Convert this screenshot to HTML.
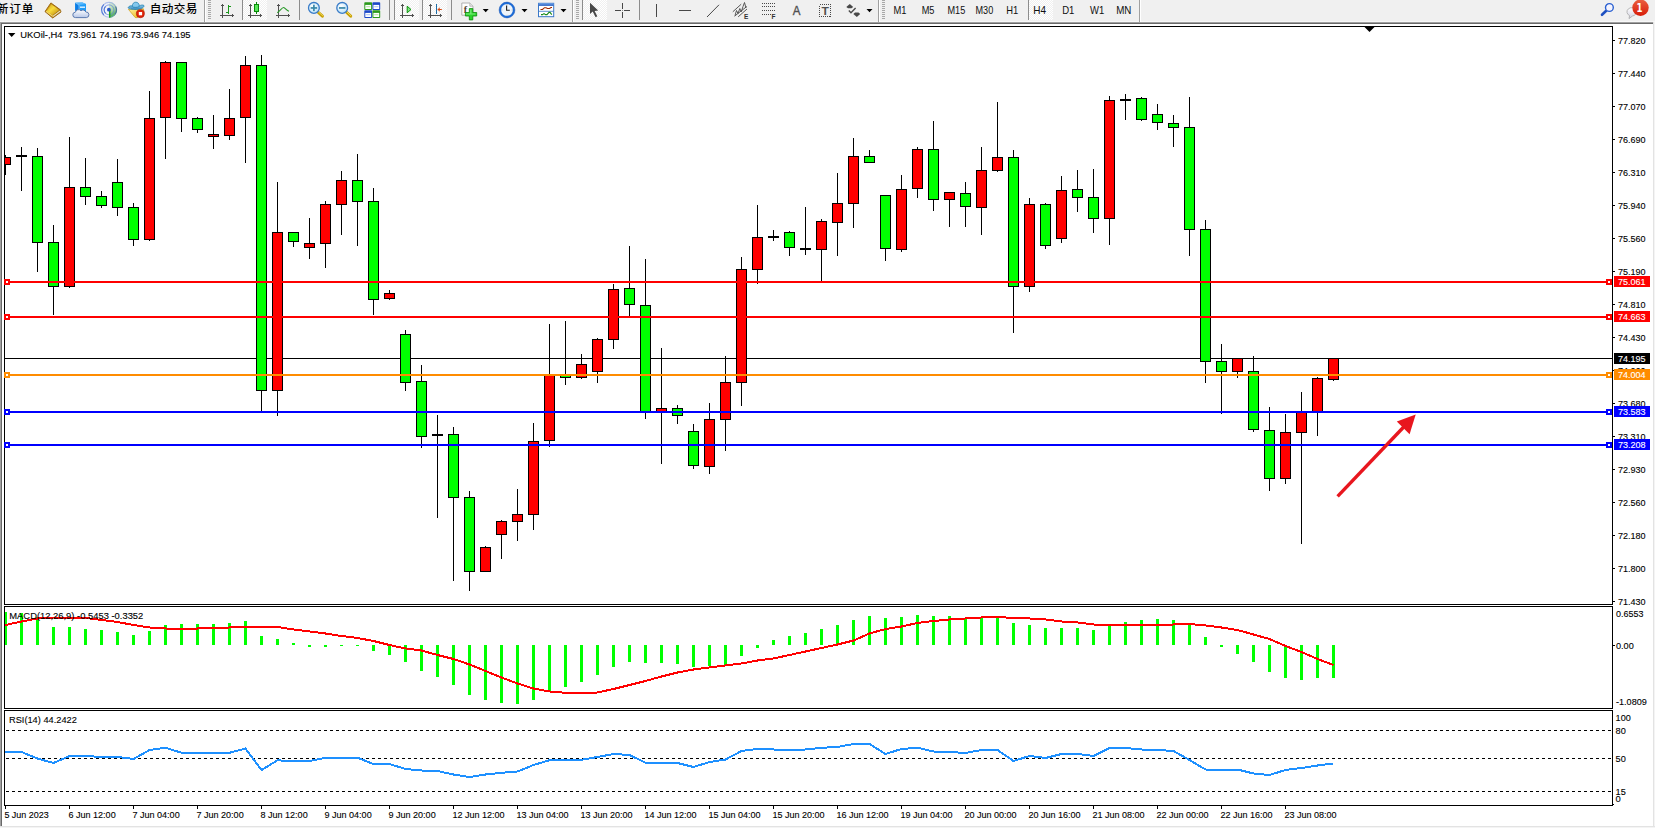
<!DOCTYPE html>
<html><head><meta charset="utf-8"><title>UKOil H4</title>
<style>html,body{margin:0;padding:0;background:#f0f0f0}body{width:1655px;height:828px;overflow:hidden;position:relative}text{white-space:pre}</style></head>
<body>
<svg width="1655" height="828" viewBox="0 0 1655 828" font-family='"Liberation Sans","Noto Sans CJK SC",sans-serif' style="position:absolute;left:0;top:0">
<g shape-rendering="crispEdges">
<rect x="0" y="22" width="1655" height="806" fill="#a0a0a0"/>
<rect x="1" y="23" width="1654" height="805" fill="#696969"/>
<rect x="2" y="24" width="1653" height="804" fill="#ffffff"/>
<rect x="1653" y="22" width="1" height="806" fill="#e3e3e3"/>
<rect x="1654" y="22" width="1" height="806" fill="#f4f4f4"/>
<rect x="0" y="826" width="1655" height="1" fill="#e3e3e3"/>
<rect x="0" y="827" width="1655" height="1" fill="#f4f4f4"/>
<rect x="0" y="21" width="1655" height="1" fill="#f7f7f7"/>
<rect x="4" y="26" width="1609" height="1" fill="#000"/>
<rect x="4" y="604" width="1609" height="1" fill="#000"/>
<rect x="4" y="26" width="1" height="579" fill="#000"/>
<rect x="1612" y="26" width="1" height="579" fill="#000"/>
<rect x="4" y="606" width="1609" height="1" fill="#000"/>
<rect x="4" y="708" width="1609" height="1" fill="#000"/>
<rect x="4" y="606" width="1" height="103" fill="#000"/>
<rect x="1612" y="606" width="1" height="103" fill="#000"/>
<rect x="4" y="710" width="1609" height="1" fill="#000"/>
<rect x="4" y="805" width="1609" height="1" fill="#000"/>
<rect x="4" y="710" width="1" height="96" fill="#000"/>
<rect x="1612" y="710" width="1" height="96" fill="#000"/>
<clipPath id="cm"><rect x="5" y="27" width="1607" height="577"/></clipPath>
<clipPath id="cd"><rect x="5" y="607" width="1607" height="101"/></clipPath>
<clipPath id="cr"><rect x="5" y="711" width="1607" height="94"/></clipPath>
<rect x="5" y="358" width="1607" height="1" fill="#000"/>
<g clip-path="url(#cm)">
<rect x="5" y="155" width="1" height="20" fill="#000"/>
<rect x="0" y="157" width="11" height="8" fill="#000"/>
<rect x="1" y="158" width="9" height="6" fill="#ff0000"/>
<rect x="21" y="147" width="1" height="44" fill="#000"/>
<rect x="16" y="155" width="11" height="2" fill="#000"/>
<rect x="37" y="148" width="1" height="124" fill="#000"/>
<rect x="32" y="156" width="11" height="87" fill="#000"/>
<rect x="33" y="157" width="9" height="85" fill="#00ff00"/>
<rect x="53" y="225" width="1" height="90" fill="#000"/>
<rect x="48" y="242" width="11" height="45" fill="#000"/>
<rect x="49" y="243" width="9" height="43" fill="#00ff00"/>
<rect x="69" y="137" width="1" height="151" fill="#000"/>
<rect x="64" y="187" width="11" height="100" fill="#000"/>
<rect x="65" y="188" width="9" height="98" fill="#ff0000"/>
<rect x="85" y="158" width="1" height="47" fill="#000"/>
<rect x="80" y="187" width="11" height="10" fill="#000"/>
<rect x="81" y="188" width="9" height="8" fill="#00ff00"/>
<rect x="101" y="191" width="1" height="17" fill="#000"/>
<rect x="96" y="196" width="11" height="10" fill="#000"/>
<rect x="97" y="197" width="9" height="8" fill="#00ff00"/>
<rect x="117" y="159" width="1" height="57" fill="#000"/>
<rect x="112" y="182" width="11" height="26" fill="#000"/>
<rect x="113" y="183" width="9" height="24" fill="#00ff00"/>
<rect x="133" y="203" width="1" height="43" fill="#000"/>
<rect x="128" y="207" width="11" height="33" fill="#000"/>
<rect x="129" y="208" width="9" height="31" fill="#00ff00"/>
<rect x="149" y="91" width="1" height="150" fill="#000"/>
<rect x="144" y="118" width="11" height="122" fill="#000"/>
<rect x="145" y="119" width="9" height="120" fill="#ff0000"/>
<rect x="165" y="61" width="1" height="98" fill="#000"/>
<rect x="160" y="62" width="11" height="56" fill="#000"/>
<rect x="161" y="63" width="9" height="54" fill="#ff0000"/>
<rect x="181" y="62" width="1" height="70" fill="#000"/>
<rect x="176" y="62" width="11" height="57" fill="#000"/>
<rect x="177" y="63" width="9" height="55" fill="#00ff00"/>
<rect x="197" y="117" width="1" height="16" fill="#000"/>
<rect x="192" y="118" width="11" height="12" fill="#000"/>
<rect x="193" y="119" width="9" height="10" fill="#00ff00"/>
<rect x="213" y="115" width="1" height="34" fill="#000"/>
<rect x="208" y="134" width="11" height="3" fill="#000"/>
<rect x="209" y="135" width="9" height="1" fill="#ff0000"/>
<rect x="229" y="89" width="1" height="51" fill="#000"/>
<rect x="224" y="118" width="11" height="18" fill="#000"/>
<rect x="225" y="119" width="9" height="16" fill="#ff0000"/>
<rect x="245" y="56" width="1" height="107" fill="#000"/>
<rect x="240" y="65" width="11" height="53" fill="#000"/>
<rect x="241" y="66" width="9" height="51" fill="#ff0000"/>
<rect x="261" y="55" width="1" height="356" fill="#000"/>
<rect x="256" y="65" width="11" height="326" fill="#000"/>
<rect x="257" y="66" width="9" height="324" fill="#00ff00"/>
<rect x="277" y="182" width="1" height="234" fill="#000"/>
<rect x="272" y="232" width="11" height="159" fill="#000"/>
<rect x="273" y="233" width="9" height="157" fill="#ff0000"/>
<rect x="293" y="232" width="1" height="15" fill="#000"/>
<rect x="288" y="232" width="11" height="10" fill="#000"/>
<rect x="289" y="233" width="9" height="8" fill="#00ff00"/>
<rect x="309" y="218" width="1" height="41" fill="#000"/>
<rect x="304" y="243" width="11" height="5" fill="#000"/>
<rect x="305" y="244" width="9" height="3" fill="#ff0000"/>
<rect x="325" y="201" width="1" height="67" fill="#000"/>
<rect x="320" y="204" width="11" height="40" fill="#000"/>
<rect x="321" y="205" width="9" height="38" fill="#ff0000"/>
<rect x="341" y="171" width="1" height="64" fill="#000"/>
<rect x="336" y="180" width="11" height="25" fill="#000"/>
<rect x="337" y="181" width="9" height="23" fill="#ff0000"/>
<rect x="357" y="154" width="1" height="92" fill="#000"/>
<rect x="352" y="180" width="11" height="22" fill="#000"/>
<rect x="353" y="181" width="9" height="20" fill="#00ff00"/>
<rect x="373" y="188" width="1" height="127" fill="#000"/>
<rect x="368" y="201" width="11" height="99" fill="#000"/>
<rect x="369" y="202" width="9" height="97" fill="#00ff00"/>
<rect x="389" y="290" width="1" height="10" fill="#000"/>
<rect x="384" y="293" width="11" height="6" fill="#000"/>
<rect x="385" y="294" width="9" height="4" fill="#ff0000"/>
<rect x="405" y="330" width="1" height="61" fill="#000"/>
<rect x="400" y="334" width="11" height="49" fill="#000"/>
<rect x="401" y="335" width="9" height="47" fill="#00ff00"/>
<rect x="421" y="365" width="1" height="83" fill="#000"/>
<rect x="416" y="381" width="11" height="56" fill="#000"/>
<rect x="417" y="382" width="9" height="54" fill="#00ff00"/>
<rect x="437" y="415" width="1" height="103" fill="#000"/>
<rect x="432" y="434" width="11" height="2" fill="#000"/>
<rect x="453" y="427" width="1" height="154" fill="#000"/>
<rect x="448" y="434" width="11" height="64" fill="#000"/>
<rect x="449" y="435" width="9" height="62" fill="#00ff00"/>
<rect x="469" y="491" width="1" height="100" fill="#000"/>
<rect x="464" y="497" width="11" height="75" fill="#000"/>
<rect x="465" y="498" width="9" height="73" fill="#00ff00"/>
<rect x="485" y="546" width="1" height="26" fill="#000"/>
<rect x="480" y="547" width="11" height="25" fill="#000"/>
<rect x="481" y="548" width="9" height="23" fill="#ff0000"/>
<rect x="501" y="520" width="1" height="39" fill="#000"/>
<rect x="496" y="521" width="11" height="14" fill="#000"/>
<rect x="497" y="522" width="9" height="12" fill="#ff0000"/>
<rect x="517" y="489" width="1" height="52" fill="#000"/>
<rect x="512" y="514" width="11" height="8" fill="#000"/>
<rect x="513" y="515" width="9" height="6" fill="#ff0000"/>
<rect x="533" y="423" width="1" height="107" fill="#000"/>
<rect x="528" y="441" width="11" height="74" fill="#000"/>
<rect x="529" y="442" width="9" height="72" fill="#ff0000"/>
<rect x="549" y="324" width="1" height="123" fill="#000"/>
<rect x="544" y="375" width="11" height="66" fill="#000"/>
<rect x="545" y="376" width="9" height="64" fill="#ff0000"/>
<rect x="565" y="321" width="1" height="64" fill="#000"/>
<rect x="560" y="375" width="11" height="3" fill="#000"/>
<rect x="561" y="376" width="9" height="1" fill="#00ff00"/>
<rect x="581" y="354" width="1" height="25" fill="#000"/>
<rect x="576" y="364" width="11" height="14" fill="#000"/>
<rect x="577" y="365" width="9" height="12" fill="#ff0000"/>
<rect x="597" y="338" width="1" height="45" fill="#000"/>
<rect x="592" y="339" width="11" height="33" fill="#000"/>
<rect x="593" y="340" width="9" height="31" fill="#ff0000"/>
<rect x="613" y="284" width="1" height="65" fill="#000"/>
<rect x="608" y="289" width="11" height="51" fill="#000"/>
<rect x="609" y="290" width="9" height="49" fill="#ff0000"/>
<rect x="629" y="246" width="1" height="70" fill="#000"/>
<rect x="624" y="288" width="11" height="17" fill="#000"/>
<rect x="625" y="289" width="9" height="15" fill="#00ff00"/>
<rect x="645" y="259" width="1" height="160" fill="#000"/>
<rect x="640" y="305" width="11" height="107" fill="#000"/>
<rect x="641" y="306" width="9" height="105" fill="#00ff00"/>
<rect x="661" y="348" width="1" height="116" fill="#000"/>
<rect x="656" y="408" width="11" height="4" fill="#000"/>
<rect x="657" y="409" width="9" height="2" fill="#ff0000"/>
<rect x="677" y="405" width="1" height="19" fill="#000"/>
<rect x="672" y="408" width="11" height="8" fill="#000"/>
<rect x="673" y="409" width="9" height="6" fill="#00ff00"/>
<rect x="693" y="424" width="1" height="45" fill="#000"/>
<rect x="688" y="431" width="11" height="35" fill="#000"/>
<rect x="689" y="432" width="9" height="33" fill="#00ff00"/>
<rect x="709" y="403" width="1" height="71" fill="#000"/>
<rect x="704" y="419" width="11" height="48" fill="#000"/>
<rect x="705" y="420" width="9" height="46" fill="#ff0000"/>
<rect x="725" y="356" width="1" height="95" fill="#000"/>
<rect x="720" y="382" width="11" height="38" fill="#000"/>
<rect x="721" y="383" width="9" height="36" fill="#ff0000"/>
<rect x="741" y="257" width="1" height="149" fill="#000"/>
<rect x="736" y="269" width="11" height="114" fill="#000"/>
<rect x="737" y="270" width="9" height="112" fill="#ff0000"/>
<rect x="757" y="205" width="1" height="79" fill="#000"/>
<rect x="752" y="237" width="11" height="33" fill="#000"/>
<rect x="753" y="238" width="9" height="31" fill="#ff0000"/>
<rect x="773" y="230" width="1" height="11" fill="#000"/>
<rect x="768" y="236" width="11" height="2" fill="#000"/>
<rect x="789" y="231" width="1" height="25" fill="#000"/>
<rect x="784" y="232" width="11" height="16" fill="#000"/>
<rect x="785" y="233" width="9" height="14" fill="#00ff00"/>
<rect x="805" y="207" width="1" height="48" fill="#000"/>
<rect x="800" y="248" width="11" height="2" fill="#000"/>
<rect x="821" y="219" width="1" height="62" fill="#000"/>
<rect x="816" y="221" width="11" height="29" fill="#000"/>
<rect x="817" y="222" width="9" height="27" fill="#ff0000"/>
<rect x="837" y="173" width="1" height="83" fill="#000"/>
<rect x="832" y="203" width="11" height="20" fill="#000"/>
<rect x="833" y="204" width="9" height="18" fill="#ff0000"/>
<rect x="853" y="138" width="1" height="90" fill="#000"/>
<rect x="848" y="156" width="11" height="48" fill="#000"/>
<rect x="849" y="157" width="9" height="46" fill="#ff0000"/>
<rect x="869" y="150" width="1" height="13" fill="#000"/>
<rect x="864" y="156" width="11" height="7" fill="#000"/>
<rect x="865" y="157" width="9" height="5" fill="#00ff00"/>
<rect x="885" y="195" width="1" height="66" fill="#000"/>
<rect x="880" y="195" width="11" height="54" fill="#000"/>
<rect x="881" y="196" width="9" height="52" fill="#00ff00"/>
<rect x="901" y="175" width="1" height="77" fill="#000"/>
<rect x="896" y="189" width="11" height="61" fill="#000"/>
<rect x="897" y="190" width="9" height="59" fill="#ff0000"/>
<rect x="917" y="147" width="1" height="51" fill="#000"/>
<rect x="912" y="149" width="11" height="40" fill="#000"/>
<rect x="913" y="150" width="9" height="38" fill="#ff0000"/>
<rect x="933" y="121" width="1" height="90" fill="#000"/>
<rect x="928" y="149" width="11" height="51" fill="#000"/>
<rect x="929" y="150" width="9" height="49" fill="#00ff00"/>
<rect x="949" y="192" width="1" height="35" fill="#000"/>
<rect x="944" y="192" width="11" height="8" fill="#000"/>
<rect x="945" y="193" width="9" height="6" fill="#ff0000"/>
<rect x="965" y="182" width="1" height="45" fill="#000"/>
<rect x="960" y="193" width="11" height="14" fill="#000"/>
<rect x="961" y="194" width="9" height="12" fill="#00ff00"/>
<rect x="981" y="147" width="1" height="88" fill="#000"/>
<rect x="976" y="170" width="11" height="38" fill="#000"/>
<rect x="977" y="171" width="9" height="36" fill="#ff0000"/>
<rect x="997" y="102" width="1" height="70" fill="#000"/>
<rect x="992" y="157" width="11" height="14" fill="#000"/>
<rect x="993" y="158" width="9" height="12" fill="#ff0000"/>
<rect x="1013" y="150" width="1" height="183" fill="#000"/>
<rect x="1008" y="157" width="11" height="130" fill="#000"/>
<rect x="1009" y="158" width="9" height="128" fill="#00ff00"/>
<rect x="1029" y="198" width="1" height="94" fill="#000"/>
<rect x="1024" y="204" width="11" height="83" fill="#000"/>
<rect x="1025" y="205" width="9" height="81" fill="#ff0000"/>
<rect x="1045" y="203" width="1" height="46" fill="#000"/>
<rect x="1040" y="204" width="11" height="42" fill="#000"/>
<rect x="1041" y="205" width="9" height="40" fill="#00ff00"/>
<rect x="1061" y="176" width="1" height="67" fill="#000"/>
<rect x="1056" y="190" width="11" height="49" fill="#000"/>
<rect x="1057" y="191" width="9" height="47" fill="#ff0000"/>
<rect x="1077" y="170" width="1" height="42" fill="#000"/>
<rect x="1072" y="189" width="11" height="9" fill="#000"/>
<rect x="1073" y="190" width="9" height="7" fill="#00ff00"/>
<rect x="1093" y="169" width="1" height="64" fill="#000"/>
<rect x="1088" y="197" width="11" height="22" fill="#000"/>
<rect x="1089" y="198" width="9" height="20" fill="#00ff00"/>
<rect x="1109" y="96" width="1" height="149" fill="#000"/>
<rect x="1104" y="100" width="11" height="119" fill="#000"/>
<rect x="1105" y="101" width="9" height="117" fill="#ff0000"/>
<rect x="1125" y="94" width="1" height="26" fill="#000"/>
<rect x="1120" y="99" width="11" height="2" fill="#000"/>
<rect x="1141" y="97" width="1" height="24" fill="#000"/>
<rect x="1136" y="98" width="11" height="22" fill="#000"/>
<rect x="1137" y="99" width="9" height="20" fill="#00ff00"/>
<rect x="1157" y="104" width="1" height="26" fill="#000"/>
<rect x="1152" y="114" width="11" height="9" fill="#000"/>
<rect x="1153" y="115" width="9" height="7" fill="#00ff00"/>
<rect x="1173" y="115" width="1" height="32" fill="#000"/>
<rect x="1168" y="123" width="11" height="5" fill="#000"/>
<rect x="1169" y="124" width="9" height="3" fill="#00ff00"/>
<rect x="1189" y="97" width="1" height="159" fill="#000"/>
<rect x="1184" y="127" width="11" height="103" fill="#000"/>
<rect x="1185" y="128" width="9" height="101" fill="#00ff00"/>
<rect x="1205" y="220" width="1" height="163" fill="#000"/>
<rect x="1200" y="229" width="11" height="133" fill="#000"/>
<rect x="1201" y="230" width="9" height="131" fill="#00ff00"/>
<rect x="1221" y="344" width="1" height="70" fill="#000"/>
<rect x="1216" y="361" width="11" height="11" fill="#000"/>
<rect x="1217" y="362" width="9" height="9" fill="#00ff00"/>
<rect x="1237" y="358" width="1" height="20" fill="#000"/>
<rect x="1232" y="358" width="11" height="14" fill="#000"/>
<rect x="1233" y="359" width="9" height="12" fill="#ff0000"/>
<rect x="1253" y="356" width="1" height="76" fill="#000"/>
<rect x="1248" y="371" width="11" height="59" fill="#000"/>
<rect x="1249" y="372" width="9" height="57" fill="#00ff00"/>
<rect x="1269" y="407" width="1" height="84" fill="#000"/>
<rect x="1264" y="430" width="11" height="49" fill="#000"/>
<rect x="1265" y="431" width="9" height="47" fill="#00ff00"/>
<rect x="1285" y="414" width="1" height="70" fill="#000"/>
<rect x="1280" y="432" width="11" height="47" fill="#000"/>
<rect x="1281" y="433" width="9" height="45" fill="#ff0000"/>
<rect x="1301" y="392" width="1" height="152" fill="#000"/>
<rect x="1296" y="412" width="11" height="21" fill="#000"/>
<rect x="1297" y="413" width="9" height="19" fill="#ff0000"/>
<rect x="1317" y="377" width="1" height="59" fill="#000"/>
<rect x="1312" y="378" width="11" height="34" fill="#000"/>
<rect x="1313" y="379" width="9" height="32" fill="#ff0000"/>
<rect x="1333" y="358" width="1" height="23" fill="#000"/>
<rect x="1328" y="358" width="11" height="22" fill="#000"/>
<rect x="1329" y="359" width="9" height="20" fill="#ff0000"/>
</g>
<rect x="5" y="281" width="1607" height="2" fill="#ff0000"/>
<rect x="4" y="279" width="6" height="6" fill="#ff0000"/>
<rect x="6" y="281" width="2" height="2" fill="#fff"/>
<rect x="1606" y="279" width="6" height="6" fill="#ff0000"/>
<rect x="1608" y="281" width="2" height="2" fill="#fff"/>
<rect x="5" y="316" width="1607" height="2" fill="#ff0000"/>
<rect x="4" y="314" width="6" height="6" fill="#ff0000"/>
<rect x="6" y="316" width="2" height="2" fill="#fff"/>
<rect x="1606" y="314" width="6" height="6" fill="#ff0000"/>
<rect x="1608" y="316" width="2" height="2" fill="#fff"/>
<rect x="5" y="374" width="1607" height="2" fill="#ff8c00"/>
<rect x="4" y="372" width="6" height="6" fill="#ff8c00"/>
<rect x="6" y="374" width="2" height="2" fill="#fff"/>
<rect x="1606" y="372" width="6" height="6" fill="#ff8c00"/>
<rect x="1608" y="374" width="2" height="2" fill="#fff"/>
<rect x="5" y="411" width="1607" height="2" fill="#0000ff"/>
<rect x="4" y="409" width="6" height="6" fill="#0000ff"/>
<rect x="6" y="411" width="2" height="2" fill="#fff"/>
<rect x="1606" y="409" width="6" height="6" fill="#0000ff"/>
<rect x="1608" y="411" width="2" height="2" fill="#fff"/>
<rect x="5" y="444" width="1607" height="2" fill="#0000ff"/>
<rect x="4" y="442" width="6" height="6" fill="#0000ff"/>
<rect x="6" y="444" width="2" height="2" fill="#fff"/>
<rect x="1606" y="442" width="6" height="6" fill="#0000ff"/>
<rect x="1608" y="444" width="2" height="2" fill="#fff"/>
<polygon points="1364.5,27 1374.5,27 1369.5,32" fill="#000" shape-rendering="geometricPrecision"/>
</g>
<g>
<rect x="1613" y="40" width="2" height="1" fill="#000" shape-rendering="crispEdges"/>
<text x="1618" y="43.5" font-size="9.9" fill="#000" stroke="#000" stroke-width="0.12" textLength="27.6" lengthAdjust="spacingAndGlyphs">77.820</text>
<rect x="1613" y="73" width="2" height="1" fill="#000" shape-rendering="crispEdges"/>
<text x="1618" y="76.5" font-size="9.9" fill="#000" stroke="#000" stroke-width="0.12" textLength="27.6" lengthAdjust="spacingAndGlyphs">77.440</text>
<rect x="1613" y="106" width="2" height="1" fill="#000" shape-rendering="crispEdges"/>
<text x="1618" y="109.5" font-size="9.9" fill="#000" stroke="#000" stroke-width="0.12" textLength="27.6" lengthAdjust="spacingAndGlyphs">77.070</text>
<rect x="1613" y="139" width="2" height="1" fill="#000" shape-rendering="crispEdges"/>
<text x="1618" y="142.5" font-size="9.9" fill="#000" stroke="#000" stroke-width="0.12" textLength="27.6" lengthAdjust="spacingAndGlyphs">76.690</text>
<rect x="1613" y="172" width="2" height="1" fill="#000" shape-rendering="crispEdges"/>
<text x="1618" y="175.5" font-size="9.9" fill="#000" stroke="#000" stroke-width="0.12" textLength="27.6" lengthAdjust="spacingAndGlyphs">76.310</text>
<rect x="1613" y="205" width="2" height="1" fill="#000" shape-rendering="crispEdges"/>
<text x="1618" y="208.5" font-size="9.9" fill="#000" stroke="#000" stroke-width="0.12" textLength="27.6" lengthAdjust="spacingAndGlyphs">75.940</text>
<rect x="1613" y="238" width="2" height="1" fill="#000" shape-rendering="crispEdges"/>
<text x="1618" y="241.5" font-size="9.9" fill="#000" stroke="#000" stroke-width="0.12" textLength="27.6" lengthAdjust="spacingAndGlyphs">75.560</text>
<rect x="1613" y="271" width="2" height="1" fill="#000" shape-rendering="crispEdges"/>
<text x="1618" y="274.5" font-size="9.9" fill="#000" stroke="#000" stroke-width="0.12" textLength="27.6" lengthAdjust="spacingAndGlyphs">75.190</text>
<rect x="1613" y="304" width="2" height="1" fill="#000" shape-rendering="crispEdges"/>
<text x="1618" y="307.5" font-size="9.9" fill="#000" stroke="#000" stroke-width="0.12" textLength="27.6" lengthAdjust="spacingAndGlyphs">74.810</text>
<rect x="1613" y="337" width="2" height="1" fill="#000" shape-rendering="crispEdges"/>
<text x="1618" y="340.5" font-size="9.9" fill="#000" stroke="#000" stroke-width="0.12" textLength="27.6" lengthAdjust="spacingAndGlyphs">74.430</text>
<rect x="1613" y="370" width="2" height="1" fill="#000" shape-rendering="crispEdges"/>
<text x="1618" y="373.5" font-size="9.9" fill="#000" stroke="#000" stroke-width="0.12" textLength="27.6" lengthAdjust="spacingAndGlyphs">74.060</text>
<rect x="1613" y="403" width="2" height="1" fill="#000" shape-rendering="crispEdges"/>
<text x="1618" y="406.5" font-size="9.9" fill="#000" stroke="#000" stroke-width="0.12" textLength="27.6" lengthAdjust="spacingAndGlyphs">73.680</text>
<rect x="1613" y="436" width="2" height="1" fill="#000" shape-rendering="crispEdges"/>
<text x="1618" y="439.5" font-size="9.9" fill="#000" stroke="#000" stroke-width="0.12" textLength="27.6" lengthAdjust="spacingAndGlyphs">73.310</text>
<rect x="1613" y="469" width="2" height="1" fill="#000" shape-rendering="crispEdges"/>
<text x="1618" y="472.5" font-size="9.9" fill="#000" stroke="#000" stroke-width="0.12" textLength="27.6" lengthAdjust="spacingAndGlyphs">72.930</text>
<rect x="1613" y="502" width="2" height="1" fill="#000" shape-rendering="crispEdges"/>
<text x="1618" y="505.5" font-size="9.9" fill="#000" stroke="#000" stroke-width="0.12" textLength="27.6" lengthAdjust="spacingAndGlyphs">72.560</text>
<rect x="1613" y="535" width="2" height="1" fill="#000" shape-rendering="crispEdges"/>
<text x="1618" y="538.5" font-size="9.9" fill="#000" stroke="#000" stroke-width="0.12" textLength="27.6" lengthAdjust="spacingAndGlyphs">72.180</text>
<rect x="1613" y="568" width="2" height="1" fill="#000" shape-rendering="crispEdges"/>
<text x="1618" y="571.5" font-size="9.9" fill="#000" stroke="#000" stroke-width="0.12" textLength="27.6" lengthAdjust="spacingAndGlyphs">71.800</text>
<rect x="1613" y="601" width="2" height="1" fill="#000" shape-rendering="crispEdges"/>
<text x="1618" y="604.5" font-size="9.9" fill="#000" stroke="#000" stroke-width="0.12" textLength="27.6" lengthAdjust="spacingAndGlyphs">71.430</text>
<rect x="1614" y="276" width="36" height="11" fill="#ff0000" shape-rendering="crispEdges"/>
<text x="1618" y="285" font-size="9.9" fill="#fff" stroke="#fff" stroke-width="0.12" textLength="27.6" lengthAdjust="spacingAndGlyphs">75.061</text>
<rect x="1614" y="311" width="36" height="11" fill="#ff0000" shape-rendering="crispEdges"/>
<text x="1618" y="320" font-size="9.9" fill="#fff" stroke="#fff" stroke-width="0.12" textLength="27.6" lengthAdjust="spacingAndGlyphs">74.663</text>
<rect x="1614" y="369" width="36" height="11" fill="#ff8c00" shape-rendering="crispEdges"/>
<text x="1618" y="378" font-size="9.9" fill="#fff" stroke="#fff" stroke-width="0.12" textLength="27.6" lengthAdjust="spacingAndGlyphs">74.004</text>
<rect x="1614" y="406" width="36" height="11" fill="#0000ff" shape-rendering="crispEdges"/>
<text x="1618" y="415" font-size="9.9" fill="#fff" stroke="#fff" stroke-width="0.12" textLength="27.6" lengthAdjust="spacingAndGlyphs">73.583</text>
<rect x="1614" y="439" width="36" height="11" fill="#0000ff" shape-rendering="crispEdges"/>
<text x="1618" y="448" font-size="9.9" fill="#fff" stroke="#fff" stroke-width="0.12" textLength="27.6" lengthAdjust="spacingAndGlyphs">73.208</text>
<rect x="1614" y="353" width="36" height="11" fill="#000" shape-rendering="crispEdges"/>
<text x="1618" y="362" font-size="9.9" fill="#fff" stroke="#fff" stroke-width="0.12" textLength="27.6" lengthAdjust="spacingAndGlyphs">74.195</text>
<polygon points="8,33 15.4,33 11.7,37" fill="#000"/>
<text x="20.3" y="37.8" font-size="9.9" fill="#000" stroke="#000" stroke-width="0.12" textLength="170.3" lengthAdjust="spacingAndGlyphs">UKOil-,H4&#160; 73.961 74.196 73.946 74.195</text>
<line x1="1337.6" y1="496.4" x2="1405.6" y2="425" stroke="#e8161e" stroke-width="3.4"/>
<polygon points="1415.7,414.4 1396.8,421.4 1409.6,434.2" fill="#e8161e"/>
</g>
<g clip-path="url(#cd)">
<g shape-rendering="crispEdges">
<rect x="4" y="612" width="3" height="33" fill="#00ff00"/>
<rect x="20" y="613" width="3" height="32" fill="#00ff00"/>
<rect x="36" y="617" width="3" height="28" fill="#00ff00"/>
<rect x="52" y="627" width="3" height="18" fill="#00ff00"/>
<rect x="68" y="627" width="3" height="18" fill="#00ff00"/>
<rect x="84" y="629" width="3" height="16" fill="#00ff00"/>
<rect x="100" y="630" width="3" height="15" fill="#00ff00"/>
<rect x="116" y="632" width="3" height="13" fill="#00ff00"/>
<rect x="132" y="635" width="3" height="10" fill="#00ff00"/>
<rect x="148" y="631" width="3" height="14" fill="#00ff00"/>
<rect x="164" y="625" width="3" height="20" fill="#00ff00"/>
<rect x="180" y="624" width="3" height="21" fill="#00ff00"/>
<rect x="196" y="624" width="3" height="21" fill="#00ff00"/>
<rect x="212" y="624" width="3" height="21" fill="#00ff00"/>
<rect x="228" y="623" width="3" height="22" fill="#00ff00"/>
<rect x="244" y="621" width="3" height="24" fill="#00ff00"/>
<rect x="260" y="636" width="3" height="9" fill="#00ff00"/>
<rect x="276" y="639" width="3" height="6" fill="#00ff00"/>
<rect x="292" y="643" width="3" height="2" fill="#00ff00"/>
<rect x="308" y="645" width="3" height="2" fill="#00ff00"/>
<rect x="324" y="645" width="3" height="2" fill="#00ff00"/>
<rect x="340" y="645" width="3" height="1" fill="#00ff00"/>
<rect x="356" y="645" width="3" height="1" fill="#00ff00"/>
<rect x="372" y="645" width="3" height="6" fill="#00ff00"/>
<rect x="388" y="645" width="3" height="10" fill="#00ff00"/>
<rect x="404" y="645" width="3" height="17" fill="#00ff00"/>
<rect x="420" y="645" width="3" height="26" fill="#00ff00"/>
<rect x="436" y="645" width="3" height="32" fill="#00ff00"/>
<rect x="452" y="645" width="3" height="40" fill="#00ff00"/>
<rect x="468" y="645" width="3" height="50" fill="#00ff00"/>
<rect x="484" y="645" width="3" height="55" fill="#00ff00"/>
<rect x="500" y="645" width="3" height="58" fill="#00ff00"/>
<rect x="516" y="645" width="3" height="59" fill="#00ff00"/>
<rect x="532" y="645" width="3" height="55" fill="#00ff00"/>
<rect x="548" y="645" width="3" height="47" fill="#00ff00"/>
<rect x="564" y="645" width="3" height="42" fill="#00ff00"/>
<rect x="580" y="645" width="3" height="37" fill="#00ff00"/>
<rect x="596" y="645" width="3" height="30" fill="#00ff00"/>
<rect x="612" y="645" width="3" height="22" fill="#00ff00"/>
<rect x="628" y="645" width="3" height="17" fill="#00ff00"/>
<rect x="644" y="645" width="3" height="18" fill="#00ff00"/>
<rect x="660" y="645" width="3" height="18" fill="#00ff00"/>
<rect x="676" y="645" width="3" height="19" fill="#00ff00"/>
<rect x="692" y="645" width="3" height="22" fill="#00ff00"/>
<rect x="708" y="645" width="3" height="21" fill="#00ff00"/>
<rect x="724" y="645" width="3" height="20" fill="#00ff00"/>
<rect x="740" y="645" width="3" height="11" fill="#00ff00"/>
<rect x="756" y="645" width="3" height="3" fill="#00ff00"/>
<rect x="772" y="640" width="3" height="5" fill="#00ff00"/>
<rect x="788" y="636" width="3" height="9" fill="#00ff00"/>
<rect x="804" y="633" width="3" height="12" fill="#00ff00"/>
<rect x="820" y="629" width="3" height="16" fill="#00ff00"/>
<rect x="836" y="625" width="3" height="20" fill="#00ff00"/>
<rect x="852" y="620" width="3" height="25" fill="#00ff00"/>
<rect x="868" y="616" width="3" height="29" fill="#00ff00"/>
<rect x="884" y="618" width="3" height="27" fill="#00ff00"/>
<rect x="900" y="617" width="3" height="28" fill="#00ff00"/>
<rect x="916" y="615" width="3" height="30" fill="#00ff00"/>
<rect x="932" y="616" width="3" height="29" fill="#00ff00"/>
<rect x="948" y="616" width="3" height="29" fill="#00ff00"/>
<rect x="964" y="618" width="3" height="27" fill="#00ff00"/>
<rect x="980" y="618" width="3" height="27" fill="#00ff00"/>
<rect x="996" y="618" width="3" height="27" fill="#00ff00"/>
<rect x="1012" y="623" width="3" height="22" fill="#00ff00"/>
<rect x="1028" y="625" width="3" height="20" fill="#00ff00"/>
<rect x="1044" y="628" width="3" height="17" fill="#00ff00"/>
<rect x="1060" y="628" width="3" height="17" fill="#00ff00"/>
<rect x="1076" y="628" width="3" height="17" fill="#00ff00"/>
<rect x="1092" y="630" width="3" height="15" fill="#00ff00"/>
<rect x="1108" y="626" width="3" height="19" fill="#00ff00"/>
<rect x="1124" y="622" width="3" height="23" fill="#00ff00"/>
<rect x="1140" y="620" width="3" height="25" fill="#00ff00"/>
<rect x="1156" y="619" width="3" height="26" fill="#00ff00"/>
<rect x="1172" y="620" width="3" height="25" fill="#00ff00"/>
<rect x="1188" y="625" width="3" height="20" fill="#00ff00"/>
<rect x="1204" y="637" width="3" height="8" fill="#00ff00"/>
<rect x="1220" y="645" width="3" height="2" fill="#00ff00"/>
<rect x="1236" y="645" width="3" height="9" fill="#00ff00"/>
<rect x="1252" y="645" width="3" height="17" fill="#00ff00"/>
<rect x="1268" y="645" width="3" height="27" fill="#00ff00"/>
<rect x="1284" y="645" width="3" height="33" fill="#00ff00"/>
<rect x="1300" y="645" width="3" height="35" fill="#00ff00"/>
<rect x="1316" y="645" width="3" height="33" fill="#00ff00"/>
<rect x="1332" y="645" width="3" height="33" fill="#00ff00"/>
</g>
<polyline points="-10.5,628.5 5.5,625 21.5,621.5 37.5,618.5 53.5,617.5 69.5,617.5 85.5,618 101.5,620 117.5,622 133.5,625 149.5,627.5 165.5,628.5 181.5,628.5 197.5,628.5 213.5,628 229.5,627.5 245.5,627 261.5,627 277.5,627 293.5,629.5 309.5,631.5 325.5,633.5 341.5,636 357.5,638 373.5,641 389.5,645 405.5,648.5 421.5,650.5 437.5,655 453.5,659 469.5,664.5 485.5,671 501.5,677.5 517.5,683.5 533.5,688.5 549.5,691.5 565.5,692.75 581.5,692.75 597.5,692.5 613.5,689 629.5,685 645.5,681 661.5,676.5 677.5,672.5 693.5,669.5 709.5,667.5 725.5,665.5 741.5,663.5 757.5,660.5 773.5,658.5 789.5,655 805.5,651.5 821.5,648 837.5,644.5 853.5,640.5 869.5,633.5 885.5,629 901.5,626.5 917.5,623 933.5,621 949.5,619.5 965.5,618.5 981.5,617.5 997.5,617 1013.5,618 1029.5,618.5 1045.5,619.5 1061.5,621.5 1077.5,622.5 1093.5,624.5 1109.5,625 1125.5,625 1141.5,625 1157.5,625 1173.5,624.5 1189.5,624 1205.5,625.5 1221.5,627.5 1237.5,630 1253.5,634.5 1269.5,639 1285.5,646 1301.5,652 1317.5,659 1333.5,665" fill="none" stroke="#ff0000" stroke-width="2" stroke-linejoin="round" shape-rendering="crispEdges"/>
</g>
<text x="9.3" y="618.7" font-size="9.9" fill="#000" stroke="#000" stroke-width="0.12" textLength="134" lengthAdjust="spacingAndGlyphs">MACD(12,26,9) -0.5453 -0.3352</text>
<text x="1616" y="617" font-size="9.9" fill="#000" stroke="#000" stroke-width="0.12" textLength="27.4" lengthAdjust="spacingAndGlyphs">0.6553</text>
<text x="1616" y="649" font-size="9.9" fill="#000" stroke="#000" stroke-width="0.12" textLength="17.8" lengthAdjust="spacingAndGlyphs">0.00</text>
<text x="1616" y="705" font-size="9.9" fill="#000" stroke="#000" stroke-width="0.12" textLength="30.8" lengthAdjust="spacingAndGlyphs">-1.0809</text>
<rect x="1613" y="645" width="2" height="1" fill="#000" shape-rendering="crispEdges"/>
<rect x="1613" y="804" width="1" height="1" fill="#000" shape-rendering="crispEdges"/>
<g shape-rendering="crispEdges">
<line x1="5" y1="730.5" x2="1612" y2="730.5" stroke="#000" stroke-width="1" stroke-dasharray="3,3" stroke-dashoffset="5"/>
<line x1="5" y1="758.5" x2="1612" y2="758.5" stroke="#000" stroke-width="1" stroke-dasharray="3,3" stroke-dashoffset="5"/>
<line x1="5" y1="791.5" x2="1612" y2="791.5" stroke="#000" stroke-width="1" stroke-dasharray="3,3" stroke-dashoffset="5"/>
</g>
<g clip-path="url(#cr)">
<polyline points="-10.5,752 5.5,752 21.5,752 37.5,758.5 53.5,763 69.5,756 85.5,756 101.5,757 117.5,757 133.5,759 149.5,750 165.5,747.75 181.5,752.75 197.5,752.75 213.5,752.75 229.5,752.75 245.5,748.5 261.5,770 277.5,760.25 293.5,761.5 309.5,761 325.5,757.75 341.5,757.75 357.5,757.75 373.5,764 389.5,764 405.5,769 421.5,770.5 437.5,771 453.5,774.5 469.5,777 485.5,774.5 501.5,772.75 517.5,771.5 533.5,765 549.5,760.25 565.5,760 581.5,759.75 597.5,757 613.5,754 629.5,755 645.5,762.75 661.5,762.75 677.5,763 693.5,767 709.5,762 725.5,759.5 741.5,751 757.5,749 773.5,749.5 789.5,749.75 805.5,749.5 821.5,747.75 837.5,747 853.5,744 869.5,744 885.5,754 901.5,749 917.5,747.75 933.5,751.5 949.5,752 965.5,753 981.5,750 997.5,750 1013.5,761 1029.5,756 1045.5,758 1061.5,754 1077.5,754 1093.5,756 1109.5,748 1125.5,748 1141.5,749.5 1157.5,750 1173.5,751 1189.5,760 1205.5,769.5 1221.5,769.5 1237.5,769.5 1253.5,773.5 1269.5,775 1285.5,770 1301.5,768 1317.5,765.5 1333.5,763.5" fill="none" stroke="#1e90ff" stroke-width="2" stroke-linejoin="round" shape-rendering="crispEdges"/>
</g>
<text x="9" y="723.2" font-size="9.9" fill="#000" stroke="#000" stroke-width="0.12" textLength="67.8" lengthAdjust="spacingAndGlyphs">RSI(14) 44.2422</text>
<text x="1615.6" y="721" font-size="9.9" fill="#000" stroke="#000" stroke-width="0.12" textLength="15.15" lengthAdjust="spacingAndGlyphs">100</text>
<text x="1615.6" y="734" font-size="9.9" fill="#000" stroke="#000" stroke-width="0.12" textLength="10.2" lengthAdjust="spacingAndGlyphs">80</text>
<text x="1615.6" y="762" font-size="9.9" fill="#000" stroke="#000" stroke-width="0.12" textLength="10.2" lengthAdjust="spacingAndGlyphs">50</text>
<text x="1615.6" y="795" font-size="9.9" fill="#000" stroke="#000" stroke-width="0.12" textLength="10.2" lengthAdjust="spacingAndGlyphs">15</text>
<text x="1615.6" y="802" font-size="9.9" fill="#000" stroke="#000" stroke-width="0.12" textLength="5.25" lengthAdjust="spacingAndGlyphs">0</text>
<rect x="5" y="806" width="1" height="3" fill="#000" shape-rendering="crispEdges"/>
<text x="4.4" y="818.3" font-size="9.9" fill="#000" stroke="#000" stroke-width="0.12" textLength="44.4" lengthAdjust="spacingAndGlyphs">5 Jun 2023</text>
<rect x="69" y="806" width="1" height="3" fill="#000" shape-rendering="crispEdges"/>
<text x="68.4" y="818.3" font-size="9.9" fill="#000" stroke="#000" stroke-width="0.12" textLength="47.3" lengthAdjust="spacingAndGlyphs">6 Jun 12:00</text>
<rect x="133" y="806" width="1" height="3" fill="#000" shape-rendering="crispEdges"/>
<text x="132.4" y="818.3" font-size="9.9" fill="#000" stroke="#000" stroke-width="0.12" textLength="47.3" lengthAdjust="spacingAndGlyphs">7 Jun 04:00</text>
<rect x="197" y="806" width="1" height="3" fill="#000" shape-rendering="crispEdges"/>
<text x="196.4" y="818.3" font-size="9.9" fill="#000" stroke="#000" stroke-width="0.12" textLength="47.3" lengthAdjust="spacingAndGlyphs">7 Jun 20:00</text>
<rect x="261" y="806" width="1" height="3" fill="#000" shape-rendering="crispEdges"/>
<text x="260.4" y="818.3" font-size="9.9" fill="#000" stroke="#000" stroke-width="0.12" textLength="47.3" lengthAdjust="spacingAndGlyphs">8 Jun 12:00</text>
<rect x="325" y="806" width="1" height="3" fill="#000" shape-rendering="crispEdges"/>
<text x="324.4" y="818.3" font-size="9.9" fill="#000" stroke="#000" stroke-width="0.12" textLength="47.3" lengthAdjust="spacingAndGlyphs">9 Jun 04:00</text>
<rect x="389" y="806" width="1" height="3" fill="#000" shape-rendering="crispEdges"/>
<text x="388.4" y="818.3" font-size="9.9" fill="#000" stroke="#000" stroke-width="0.12" textLength="47.3" lengthAdjust="spacingAndGlyphs">9 Jun 20:00</text>
<rect x="453" y="806" width="1" height="3" fill="#000" shape-rendering="crispEdges"/>
<text x="452.4" y="818.3" font-size="9.9" fill="#000" stroke="#000" stroke-width="0.12" textLength="52.2" lengthAdjust="spacingAndGlyphs">12 Jun 12:00</text>
<rect x="517" y="806" width="1" height="3" fill="#000" shape-rendering="crispEdges"/>
<text x="516.4" y="818.3" font-size="9.9" fill="#000" stroke="#000" stroke-width="0.12" textLength="52.2" lengthAdjust="spacingAndGlyphs">13 Jun 04:00</text>
<rect x="581" y="806" width="1" height="3" fill="#000" shape-rendering="crispEdges"/>
<text x="580.4" y="818.3" font-size="9.9" fill="#000" stroke="#000" stroke-width="0.12" textLength="52.2" lengthAdjust="spacingAndGlyphs">13 Jun 20:00</text>
<rect x="645" y="806" width="1" height="3" fill="#000" shape-rendering="crispEdges"/>
<text x="644.4" y="818.3" font-size="9.9" fill="#000" stroke="#000" stroke-width="0.12" textLength="52.2" lengthAdjust="spacingAndGlyphs">14 Jun 12:00</text>
<rect x="709" y="806" width="1" height="3" fill="#000" shape-rendering="crispEdges"/>
<text x="708.4" y="818.3" font-size="9.9" fill="#000" stroke="#000" stroke-width="0.12" textLength="52.2" lengthAdjust="spacingAndGlyphs">15 Jun 04:00</text>
<rect x="773" y="806" width="1" height="3" fill="#000" shape-rendering="crispEdges"/>
<text x="772.4" y="818.3" font-size="9.9" fill="#000" stroke="#000" stroke-width="0.12" textLength="52.2" lengthAdjust="spacingAndGlyphs">15 Jun 20:00</text>
<rect x="837" y="806" width="1" height="3" fill="#000" shape-rendering="crispEdges"/>
<text x="836.4" y="818.3" font-size="9.9" fill="#000" stroke="#000" stroke-width="0.12" textLength="52.2" lengthAdjust="spacingAndGlyphs">16 Jun 12:00</text>
<rect x="901" y="806" width="1" height="3" fill="#000" shape-rendering="crispEdges"/>
<text x="900.4" y="818.3" font-size="9.9" fill="#000" stroke="#000" stroke-width="0.12" textLength="52.2" lengthAdjust="spacingAndGlyphs">19 Jun 04:00</text>
<rect x="965" y="806" width="1" height="3" fill="#000" shape-rendering="crispEdges"/>
<text x="964.4" y="818.3" font-size="9.9" fill="#000" stroke="#000" stroke-width="0.12" textLength="52.2" lengthAdjust="spacingAndGlyphs">20 Jun 00:00</text>
<rect x="1029" y="806" width="1" height="3" fill="#000" shape-rendering="crispEdges"/>
<text x="1028.4" y="818.3" font-size="9.9" fill="#000" stroke="#000" stroke-width="0.12" textLength="52.2" lengthAdjust="spacingAndGlyphs">20 Jun 16:00</text>
<rect x="1093" y="806" width="1" height="3" fill="#000" shape-rendering="crispEdges"/>
<text x="1092.4" y="818.3" font-size="9.9" fill="#000" stroke="#000" stroke-width="0.12" textLength="52.2" lengthAdjust="spacingAndGlyphs">21 Jun 08:00</text>
<rect x="1157" y="806" width="1" height="3" fill="#000" shape-rendering="crispEdges"/>
<text x="1156.4" y="818.3" font-size="9.9" fill="#000" stroke="#000" stroke-width="0.12" textLength="52.2" lengthAdjust="spacingAndGlyphs">22 Jun 00:00</text>
<rect x="1221" y="806" width="1" height="3" fill="#000" shape-rendering="crispEdges"/>
<text x="1220.4" y="818.3" font-size="9.9" fill="#000" stroke="#000" stroke-width="0.12" textLength="52.2" lengthAdjust="spacingAndGlyphs">22 Jun 16:00</text>
<rect x="1285" y="806" width="1" height="3" fill="#000" shape-rendering="crispEdges"/>
<text x="1284.4" y="818.3" font-size="9.9" fill="#000" stroke="#000" stroke-width="0.12" textLength="52.2" lengthAdjust="spacingAndGlyphs">23 Jun 08:00</text>
<defs>
<pattern id="chk" width="2" height="2" patternUnits="userSpaceOnUse"><rect width="2" height="2" fill="#f0f0f0"/><rect width="1" height="1" fill="#fff"/><rect x="1" y="1" width="1" height="1" fill="#fff"/></pattern>
<linearGradient id="gBook" x1="0" y1="0" x2="1" y2="1"><stop offset="0" stop-color="#c89a18"/><stop offset="0.45" stop-color="#f8dc3c"/><stop offset="1" stop-color="#b8820c"/></linearGradient>
<linearGradient id="gBadge" x1="0" y1="0" x2="0" y2="1"><stop offset="0" stop-color="#ea6040"/><stop offset="1" stop-color="#d81c08"/></linearGradient>
<linearGradient id="gCloud" x1="0" y1="0" x2="0" y2="1"><stop offset="0" stop-color="#ffffff"/><stop offset="1" stop-color="#b8c8e8"/></linearGradient>
<linearGradient id="gHat" x1="0" y1="0" x2="0" y2="1"><stop offset="0" stop-color="#8cc8e8"/><stop offset="1" stop-color="#3a8ac0"/></linearGradient>
<linearGradient id="gFace" x1="0" y1="0" x2="1" y2="1"><stop offset="0" stop-color="#fff0a0"/><stop offset="1" stop-color="#e8b810"/></linearGradient>
<linearGradient id="gGreen" x1="0" y1="0" x2="1" y2="0"><stop offset="0" stop-color="#30d030"/><stop offset="0.5" stop-color="#90f090"/><stop offset="1" stop-color="#20c020"/></linearGradient>
<radialGradient id="gLens" cx="0.4" cy="0.35" r="0.7"><stop offset="0" stop-color="#ffffff"/><stop offset="1" stop-color="#b8e0f8"/></radialGradient>
<linearGradient id="gBlueBar" x1="0" y1="0" x2="0" y2="1"><stop offset="0" stop-color="#6aa0e8"/><stop offset="1" stop-color="#2a60c0"/></linearGradient>
<linearGradient id="gBubble" x1="0" y1="0" x2="0" y2="1"><stop offset="0" stop-color="#ffffff"/><stop offset="1" stop-color="#d0d0e0"/></linearGradient>
<linearGradient id="gSweep" x1="0" y1="0" x2="0.3" y2="1"><stop offset="0" stop-color="#d8ecd0" stop-opacity="0.5"/><stop offset="0.6" stop-color="#98cc90" stop-opacity="0.85"/><stop offset="1" stop-color="#38a838"/></linearGradient>
</defs>
<g shape-rendering="crispEdges">
<rect x="243" y="0" width="24" height="20" fill="url(#chk)"/>
<rect x="395" y="0" width="24" height="20" fill="url(#chk)"/>
<rect x="423" y="0" width="24" height="20" fill="url(#chk)"/>
<rect x="583" y="0" width="24" height="20" fill="url(#chk)"/>
<rect x="1029" y="0" width="24" height="20" fill="url(#chk)"/>
<rect x="204" y="0" width="1" height="22" fill="#a0a0a0"/>
<rect x="205" y="0" width="1" height="22" fill="#ffffff"/>
<rect x="572" y="0" width="1" height="22" fill="#a0a0a0"/>
<rect x="573" y="0" width="1" height="22" fill="#ffffff"/>
<rect x="878" y="0" width="1" height="22" fill="#a0a0a0"/>
<rect x="879" y="0" width="1" height="22" fill="#ffffff"/>
<rect x="1139" y="0" width="1" height="22" fill="#a0a0a0"/>
<rect x="1140" y="0" width="1" height="22" fill="#ffffff"/>
<rect x="208" y="0" width="3" height="1" fill="#a8a8a8"/>
<rect x="208" y="2" width="3" height="1" fill="#a8a8a8"/>
<rect x="208" y="4" width="3" height="1" fill="#a8a8a8"/>
<rect x="208" y="6" width="3" height="1" fill="#a8a8a8"/>
<rect x="208" y="8" width="3" height="1" fill="#a8a8a8"/>
<rect x="208" y="10" width="3" height="1" fill="#a8a8a8"/>
<rect x="208" y="12" width="3" height="1" fill="#a8a8a8"/>
<rect x="208" y="14" width="3" height="1" fill="#a8a8a8"/>
<rect x="208" y="16" width="3" height="1" fill="#a8a8a8"/>
<rect x="208" y="18" width="3" height="1" fill="#a8a8a8"/>
<rect x="576" y="0" width="3" height="1" fill="#a8a8a8"/>
<rect x="576" y="2" width="3" height="1" fill="#a8a8a8"/>
<rect x="576" y="4" width="3" height="1" fill="#a8a8a8"/>
<rect x="576" y="6" width="3" height="1" fill="#a8a8a8"/>
<rect x="576" y="8" width="3" height="1" fill="#a8a8a8"/>
<rect x="576" y="10" width="3" height="1" fill="#a8a8a8"/>
<rect x="576" y="12" width="3" height="1" fill="#a8a8a8"/>
<rect x="576" y="14" width="3" height="1" fill="#a8a8a8"/>
<rect x="576" y="16" width="3" height="1" fill="#a8a8a8"/>
<rect x="576" y="18" width="3" height="1" fill="#a8a8a8"/>
<rect x="882" y="0" width="3" height="1" fill="#a8a8a8"/>
<rect x="882" y="2" width="3" height="1" fill="#a8a8a8"/>
<rect x="882" y="4" width="3" height="1" fill="#a8a8a8"/>
<rect x="882" y="6" width="3" height="1" fill="#a8a8a8"/>
<rect x="882" y="8" width="3" height="1" fill="#a8a8a8"/>
<rect x="882" y="10" width="3" height="1" fill="#a8a8a8"/>
<rect x="882" y="12" width="3" height="1" fill="#a8a8a8"/>
<rect x="882" y="14" width="3" height="1" fill="#a8a8a8"/>
<rect x="882" y="16" width="3" height="1" fill="#a8a8a8"/>
<rect x="882" y="18" width="3" height="1" fill="#a8a8a8"/>
<rect x="242" y="0" width="1" height="20" fill="#8c8c8c"/>
<rect x="299" y="0" width="1" height="20" fill="#8c8c8c"/>
<rect x="389" y="0" width="1" height="20" fill="#8c8c8c"/>
<rect x="394" y="0" width="1" height="20" fill="#8c8c8c"/>
<rect x="422" y="0" width="1" height="20" fill="#8c8c8c"/>
<rect x="451" y="0" width="1" height="20" fill="#8c8c8c"/>
<rect x="582" y="0" width="1" height="20" fill="#8c8c8c"/>
<rect x="639" y="0" width="1" height="20" fill="#8c8c8c"/>
<rect x="1028" y="0" width="1" height="20" fill="#8c8c8c"/>
</g>
<text x="-3.3" y="13.2" font-size="11.6" font-weight="500" fill="#000" textLength="36.6" lengthAdjust="spacing">新订单</text>
<text x="149.7" y="13.2" font-size="11.6" font-weight="500" fill="#000" textLength="47.6" lengthAdjust="spacing">自动交易</text>
<polygon points="50.9,2.9 60.4,9.8 61,12 52.7,18 45,11.6" fill="#9c640a" stroke="#9c640a" stroke-width="0.9" stroke-linejoin="round"/>
<polygon points="53,16.9 60.5,11.6 60.2,10.3 52.8,15.7" fill="#ece4b8"/>
<polygon points="51.1,3.9 59.4,10 52.6,15.2 46.3,10.9" fill="url(#gBook)"/>
<polygon points="45.8,11.7 52.6,17.1 53,15.7 46.6,10.7" fill="#f6dc68"/>
<line x1="51.1" y1="3.9" x2="46.4" y2="10.8" stroke="#c89418" stroke-width="0.7"/>
<polygon points="75.2,2.8 82.4,2.4 86,4 86,11.5 79,11.5 75.2,10.5" fill="#1e9cf8"/>
<polygon points="75.2,2.8 82.4,2.4 86,4 79,5.1" fill="#58b8fc"/>
<polygon points="75.2,2.8 79,5.1 79,12 75.2,10.5" fill="#0c7ce4"/>
<polyline points="75.4,2.9 79,5.1 79,11" fill="none" stroke="#c8e8ff" stroke-width="0.5"/>
<rect x="80" y="6.5" width="5" height="1.4" fill="#e0f4ff"/>
<path d="M75.6,17.6 a2.7,2.7 0 0 1 -0.2,-5.4 a3.2,3.2 0 0 1 5.6,-1.4 a3,3 0 0 1 4.8,1.2 a2.8,2.8 0 0 1 0.6,5.6 z" fill="url(#gCloud)" stroke="#5070a8" stroke-width="0.9"/>
<circle cx="109" cy="9.8" r="8" fill="#f3f4fa"/>
<path d="M109,9.8 L109,1.8 A8,8 0 0 1 109,17.8 Z" fill="url(#gSweep)"/>
<g fill="none">
<circle cx="109" cy="9.8" r="7.4" stroke="#7898e0" stroke-opacity="0.55" stroke-width="1.1"/>
<circle cx="109" cy="9.8" r="4.9" stroke="#5880d8" stroke-opacity="0.6" stroke-width="1.1"/>
<path d="M103.8,4.5 A7.4,7.4 0 0 0 103.8,15.1" stroke="#3060d0" stroke-opacity="0.7" stroke-width="1.1"/>
<path d="M105.6,6.3 A4.9,4.9 0 0 0 105.6,13.3" stroke="#3060d0" stroke-opacity="0.7" stroke-width="1.1"/>
<path d="M115.6,6.4 A7.4,7.4 0 0 1 114.8,14.4" stroke="#386890" stroke-opacity="0.8" stroke-width="1.1"/>
<line x1="109.7" y1="10" x2="109.7" y2="17.6" stroke="#18a018" stroke-width="1.5"/>
</g>
<circle cx="108.9" cy="9.7" r="1.9" fill="#2858c8"/>
<polygon points="128.4,9.3 143.4,8.8 144,11.6 137.2,17.7 135.2,17.5" fill="url(#gFace)" stroke="#d09c10" stroke-width="0.7" stroke-linejoin="round"/>
<path d="M128.2,7.6 C129,5.4 132,5.6 132.6,6.2 C133.4,7.6 138.6,7.6 139.4,6 C140.4,5 143.2,4.6 144,5.6 C144.4,7.4 141,9.2 136.4,9.4 C132,9.6 128.2,9 128.2,7.6 Z" fill="url(#gHat)" stroke="#2484b4" stroke-width="0.8"/>
<path d="M132.3,6.6 C132.2,3.6 133.8,2.2 135.8,2.2 C137.8,2.2 139.4,3.6 139.3,6.4 C138,7.6 133.6,7.7 132.3,6.6 Z" fill="#84c8ee" stroke="#2484b4" stroke-width="0.8"/>
<circle cx="140.4" cy="13.7" r="4" fill="#e02408" stroke="#b01808" stroke-width="0.7"/>
<rect x="138.8" y="12" width="3.3" height="3.3" fill="#fff"/>
<g shape-rendering="crispEdges" fill="#505050">
<rect x="222" y="5" width="1" height="13"/>
<rect x="220" y="15" width="13" height="1"/>
<rect x="221" y="5" width="3" height="1"/>
<rect x="232" y="14" width="1" height="3"/>
<rect x="233" y="15" width="1" height="1"/>
<rect x="222" y="4" width="1" height="1"/>
</g>
<g shape-rendering="crispEdges" fill="#1a981a"><rect x="228" y="5" width="1" height="9"/><rect x="229" y="6" width="2" height="1"/><rect x="226" y="12" width="2" height="1"/></g>
<g shape-rendering="crispEdges" fill="#505050">
<rect x="250" y="5" width="1" height="13"/>
<rect x="248" y="15" width="13" height="1"/>
<rect x="249" y="5" width="3" height="1"/>
<rect x="260" y="14" width="1" height="3"/>
<rect x="261" y="15" width="1" height="1"/>
<rect x="250" y="4" width="1" height="1"/>
</g>
<g shape-rendering="crispEdges"><rect x="256" y="2" width="1" height="12" fill="#0a8a0a"/><rect x="254" y="4" width="5" height="8" fill="#0a8a0a"/><rect x="255" y="5" width="3" height="6" fill="#58e858"/></g>
<g shape-rendering="crispEdges" fill="#505050">
<rect x="278" y="5" width="1" height="13"/>
<rect x="276" y="15" width="13" height="1"/>
<rect x="277" y="5" width="3" height="1"/>
<rect x="288" y="14" width="1" height="3"/>
<rect x="289" y="15" width="1" height="1"/>
<rect x="278" y="4" width="1" height="1"/>
</g>
<path d="M277.3,12.8 C280,11 282,7.3 283.6,7.5 C285.3,7.8 286.5,10.5 289,11.2" fill="none" stroke="#2a9a2a" stroke-width="1.1"/>
<line x1="317.9" y1="12" x2="322.4" y2="16.2" stroke="#c8a000" stroke-width="3" stroke-linecap="round"/>
<line x1="318.2" y1="11.6" x2="322.9" y2="16" stroke="#f0d860" stroke-width="1"/>
<circle cx="313.9" cy="7.9" r="5.4" fill="url(#gLens)" stroke="#3a7cc8" stroke-width="1.3"/>
<rect x="310.7" y="7.1" width="6.4" height="1.7" fill="#3a88a8"/>
<rect x="313.04999999999995" y="4.7" width="1.7" height="6.4" fill="#3a88a8"/>
<line x1="346.2" y1="12" x2="350.7" y2="16.2" stroke="#c8a000" stroke-width="3" stroke-linecap="round"/>
<line x1="346.5" y1="11.6" x2="351.2" y2="16" stroke="#f0d860" stroke-width="1"/>
<circle cx="342.2" cy="7.9" r="5.4" fill="url(#gLens)" stroke="#3a7cc8" stroke-width="1.3"/>
<rect x="339.0" y="7.1" width="6.4" height="1.7" fill="#3a88a8"/>
<rect x="364.3" y="2.3" width="7.8" height="7.7" rx="0.8" fill="#2c9a1c"/>
<rect x="365.3" y="4.9" width="5.8" height="4.1" fill="#fff"/>
<rect x="366.1" y="6.3" width="4.2" height="0.9" fill="#a8e090"/>
<rect x="372.4" y="2.3" width="7.8" height="7.7" rx="0.8" fill="#1c48c8"/>
<rect x="373.4" y="4.9" width="5.8" height="4.1" fill="#fff"/>
<rect x="374.2" y="6.3" width="4.2" height="0.9" fill="#a0b8f0"/>
<rect x="364.3" y="10.3" width="7.8" height="7.7" rx="0.8" fill="#1c48c8"/>
<rect x="365.3" y="12.9" width="5.8" height="4.1" fill="#fff"/>
<rect x="366.1" y="14.3" width="4.2" height="0.9" fill="#a0b8f0"/>
<rect x="372.4" y="10.3" width="7.8" height="7.7" rx="0.8" fill="#2c9a1c"/>
<rect x="373.4" y="12.9" width="5.8" height="4.1" fill="#fff"/>
<rect x="374.2" y="14.3" width="4.2" height="0.9" fill="#a8e090"/>
<g shape-rendering="crispEdges" fill="#505050">
<rect x="402" y="5" width="1" height="13"/>
<rect x="400" y="15" width="13" height="1"/>
<rect x="401" y="5" width="3" height="1"/>
<rect x="412" y="14" width="1" height="3"/>
<rect x="413" y="15" width="1" height="1"/>
<rect x="402" y="4" width="1" height="1"/>
</g>
<polygon points="407.2,6.2 407.2,12.8 411,9.5" fill="#80e880" stroke="#0a900a" stroke-width="1" stroke-linejoin="round"/>
<g shape-rendering="crispEdges" fill="#505050">
<rect x="430" y="5" width="1" height="13"/>
<rect x="428" y="15" width="13" height="1"/>
<rect x="429" y="5" width="3" height="1"/>
<rect x="440" y="14" width="1" height="3"/>
<rect x="441" y="15" width="1" height="1"/>
<rect x="430" y="4" width="1" height="1"/>
</g>
<rect x="436" y="4" width="1" height="10" fill="#1e6ea8" shape-rendering="crispEdges"/>
<polygon points="437.3,9.5 440,7.3 439.6,9 441.8,9 441.8,10 439.6,10 440,11.7" fill="#d84a10"/>
<path d="M461.8,3 h8 l3.2,3.2 v9 h-11.2 z" fill="#fdfdfd" stroke="#a8a8a8" stroke-width="0.9"/>
<path d="M469.8,3 v3.2 h3.2" fill="#e8e8e8" stroke="#a8a8a8" stroke-width="0.7"/>
<text x="463.8" y="13" font-size="10" font-weight="bold" font-family='"Liberation Serif",serif' fill="#504030">f</text>
<path d="M469.3,8.6 h3.5 v3.9 h3.9 v3.5 h-3.9 v3.9 h-3.5 v-3.9 h-3.9 v-3.5 h3.9 z" fill="#2cd42c" stroke="#0a8a0a" stroke-width="0.8"/>
<path d="M470.2,9.6 h1.2 v3.9 h3.9 v1 h-9.3 v-1 h4.2 z" fill="#90f090" opacity="0.8"/>
<polygon points="482.7,9 488.7,9 485.7,12.2" fill="#000"/>
<polygon points="521.5,9 527.5,9 524.5,12.2" fill="#000"/>
<polygon points="560.5,9 566.5,9 563.5,12.2" fill="#000"/>
<polygon points="866.5,9 872.5,9 869.5,12.2" fill="#000"/>
<circle cx="507" cy="10" r="6.9" fill="#eef4fa" stroke="#1c6cd8" stroke-width="2"/>
<circle cx="507" cy="10" r="7.9" fill="none" stroke="#1450b0" stroke-width="0.5"/>
<path d="M506.6,5.5 V10.3 H509.8" fill="none" stroke="#202020" stroke-width="1.1"/>
<g fill="#8898a8"><rect x="506.6" y="4.2" width="0.8" height="0.9"/><rect x="506.6" y="14.9" width="0.8" height="0.9"/><rect x="501.4" y="9.6" width="0.9" height="0.8"/><rect x="511.7" y="9.6" width="0.9" height="0.8"/></g>
<rect x="538.5" y="3.3" width="15.2" height="13.4" fill="#fff" stroke="#3a78c8" stroke-width="1"/>
<rect x="538.5" y="3.3" width="15.2" height="2.6" fill="url(#gBlueBar)"/>
<line x1="539" y1="11.3" x2="553.5" y2="11.3" stroke="#3a78c8" stroke-width="0.8"/>
<polyline points="540.5,9.5 542.5,9.5 544.5,7.7 546,7.7 547.5,8.5 549.5,8.5 551,7.5 552,7.5" fill="none" stroke="#a02800" stroke-width="1.1"/>
<polyline points="541,14.6 542.5,14.6 544,13.6 545.5,14.6 547,14.6 549,12.4 550,12.4 551.8,14.6" fill="none" stroke="#1a8a1a" stroke-width="1.1"/>
<polygon points="590,2.8 590,14 592.7,11.6 595.6,17.2 597.3,16.3 594.6,10.9 598.2,10.5" fill="#484848"/>
<g shape-rendering="crispEdges" fill="#484848"><rect x="615" y="10" width="6" height="1"/><rect x="624" y="10" width="6" height="1"/><rect x="622" y="3" width="1" height="6"/><rect x="622" y="12" width="1" height="6"/><rect x="622" y="10" width="1" height="1" fill="#909090"/></g>
<rect x="656" y="4" width="1" height="13" fill="#484848" shape-rendering="crispEdges"/>
<rect x="679" y="10" width="12" height="1" fill="#484848" shape-rendering="crispEdges"/>
<line x1="707" y1="17" x2="719" y2="4.8" stroke="#484848" stroke-width="1"/>
<g stroke="#484848" stroke-width="0.9" fill="none">
<line x1="732.8" y1="11.8" x2="741.2" y2="4.2"/>
<line x1="734.5" y1="16.2" x2="746.8" y2="6.5"/>
<line x1="738.2" y1="16.8" x2="747" y2="9"/>
<polyline points="735,15.5 736.5,10.5 738,13.5 739.8,8.5 741.3,11.8 743,6.5 744.5,2.5 746,8"/>
</g>
<text x="744" y="18.8" font-size="6.5" font-weight="bold" fill="#303030">E</text>
<g stroke="#484848" stroke-width="1" stroke-dasharray="1,1" shape-rendering="crispEdges">
<line x1="762" y1="3.5" x2="775" y2="3.5"/>
<line x1="762" y1="6.5" x2="775" y2="6.5"/>
<line x1="762" y1="10.5" x2="775" y2="10.5"/>
<line x1="762" y1="14.5" x2="771" y2="14.5"/>
</g>
<text x="771.5" y="18.8" font-size="6.5" font-weight="bold" fill="#303030">F</text>
<text x="792.8" y="14.9" font-size="12.5" fill="#505050" stroke="#505050" stroke-width="0.35" textLength="7.7" lengthAdjust="spacingAndGlyphs">A</text>
<rect x="819.5" y="4.5" width="11" height="12" fill="none" stroke="#484848" stroke-width="1" stroke-dasharray="1,1" shape-rendering="crispEdges"/>
<text x="821.4" y="14.9" font-size="10.8" font-weight="bold" fill="#505050" textLength="7.4" lengthAdjust="spacingAndGlyphs">T</text>
<polygon points="849.8,4 853.2,7 851.5,8.3 848,8.3 846.3,7" fill="#484848"/>
<polygon points="856.8,17 853.4,14 855,12.6 858.5,12.6 860.2,14" fill="#484848"/>
<polyline points="848.8,10.5 851,12.8 855.6,8" fill="none" stroke="#484848" stroke-width="1.3"/>
<text x="893.4" y="14" font-size="10.2" fill="#101010" textLength="13" lengthAdjust="spacingAndGlyphs">M1</text>
<text x="921.7" y="14" font-size="10.2" fill="#101010" textLength="12.8" lengthAdjust="spacingAndGlyphs">M5</text>
<text x="947.5" y="14" font-size="10.2" fill="#101010" textLength="17.8" lengthAdjust="spacingAndGlyphs">M15</text>
<text x="975.5" y="14" font-size="10.2" fill="#101010" textLength="17.7" lengthAdjust="spacingAndGlyphs">M30</text>
<text x="1006.3" y="14" font-size="10.2" fill="#101010" textLength="12" lengthAdjust="spacingAndGlyphs">H1</text>
<text x="1033.2" y="14" font-size="10.2" fill="#101010" textLength="12.8" lengthAdjust="spacingAndGlyphs">H4</text>
<text x="1062.2" y="14" font-size="10.2" fill="#101010" textLength="12.2" lengthAdjust="spacingAndGlyphs">D1</text>
<text x="1090.1" y="14" font-size="10.2" fill="#101010" textLength="14.2" lengthAdjust="spacingAndGlyphs">W1</text>
<text x="1116.2" y="14" font-size="10.2" fill="#101010" textLength="15.2" lengthAdjust="spacingAndGlyphs">MN</text>
<line x1="1606.2" y1="10.8" x2="1602" y2="14.8" stroke="#1e50c0" stroke-width="2.6" stroke-linecap="round"/>
<circle cx="1609.4" cy="7.5" r="3.9" fill="#f4f4ff" stroke="#2a60d0" stroke-width="1.4"/>
<path d="M1629,18.6 L1629.6,15.6 A4.8,4.2 0 1 1 1632.5,16 Z" fill="url(#gBubble)" stroke="#a8a8a8" stroke-width="0.8"/>
<circle cx="1640.5" cy="7.7" r="8.2" fill="url(#gBadge)"/>
<text x="1639.6" y="12.1" font-size="12" font-weight="bold" font-family='"DejaVu Sans","Liberation Sans",sans-serif' fill="#fff" text-anchor="middle" textLength="6" lengthAdjust="spacingAndGlyphs">1</text>
</svg>
</body></html>
